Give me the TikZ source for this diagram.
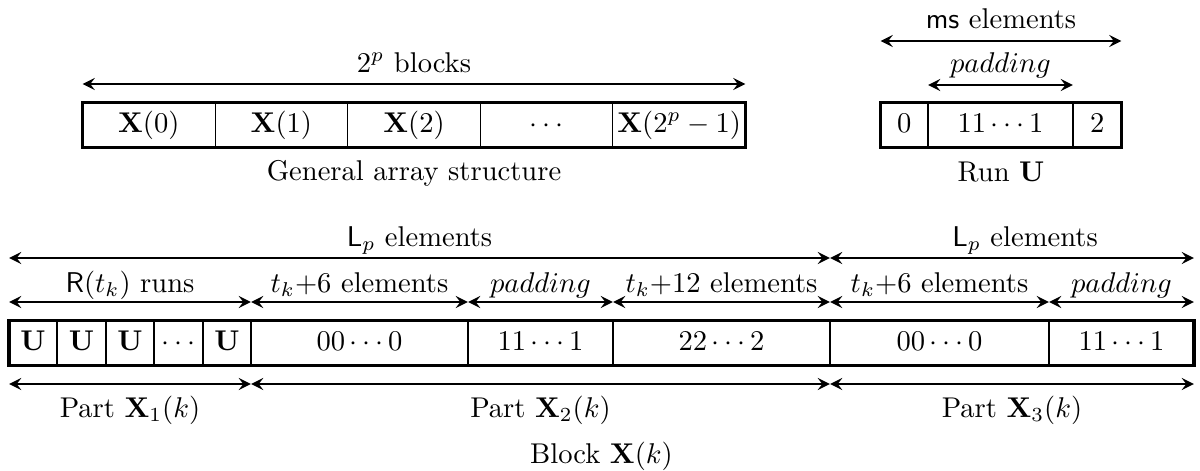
\documentclass[tikz,border=0pt]{standalone}
\usetikzlibrary{arrows.meta}
\newcommand\pxu{0.350pt}
\begin{document}
\begin{tikzpicture}[x=\pxu, y=-\pxu,
  cell/.style={draw, line width=0.4pt, inner sep=0pt, outer sep=0pt, anchor=north west,
    minimum height=45*\pxu, text height=7.5pt, text depth=2.5pt},
  frame/.style={line width=1.2pt},
  dim/.style={line width=1pt,
    arrows={Stealth[length=4.3pt,width=4.2pt,inset=1.6pt]-Stealth[length=4.3pt,width=4.2pt,inset=1.6pt]}},
  lab/.style={anchor=base, inner sep=0pt, outer sep=0pt}]
\useasboundingbox (0,0) rectangle (1200,470);

% ---- General array structure ----
\node[cell, minimum width=132.6*\pxu] (x0) at (82.5,102.5) {$\mathbf{X}(0)$};
\node[cell, minimum width=132.6*\pxu] (x1) at (215.1,102.5) {$\mathbf{X}(1)$};
\node[cell, minimum width=132.6*\pxu] (x2) at (347.7,102.5) {$\mathbf{X}(2)$};
\node[cell, minimum width=132.6*\pxu] (x3) at (480.3,102.5) {$\cdots$};
\node[cell, minimum width=132.6*\pxu] (x4) at (612.9,102.5) {$\mathbf{X}(2^p-1)$};
\draw[frame] (x0.north west) rectangle (x4.south east);
\draw[dim] ([yshift=18.5*\pxu]x0.north west) -- ([yshift=18.5*\pxu]x4.north east)
  node[lab, midway, yshift=12*\pxu] {$2^p$ blocks};
\node[lab] (gas) at (414,180) {General array structure};

% ---- Run U ----
\node[cell, minimum width=47.5*\pxu] (r0) at (880.5,102.5) {$0$};
\node[cell, minimum width=145*\pxu] (r1) at (928,102.5) {$11\cdots1$};
\node[cell, minimum width=48.5*\pxu] (r2) at (1073,102.5) {$2$};
\draw[frame] (r0.north west) rectangle (r2.south east);
\draw[dim] ([yshift=61.5*\pxu]r0.north west) -- ([yshift=61.5*\pxu]r2.north east)
  node[lab, midway, yshift=13*\pxu] {\textsf{ms} elements};
\draw[dim] ([yshift=17.5*\pxu]r1.north west) -- ([yshift=17.5*\pxu]r1.north east)
  node[lab, midway, yshift=13*\pxu] {$padding$};
\node[lab] (runu) at (1001,181) {Run $\mathbf{U}$};

% ---- Block X(k) ----
\node[cell, minimum width=48*\pxu] (u1) at (9,320.5) {$\mathbf{U}$};
\node[cell, minimum width=49*\pxu] (u2) at (57,320.5) {$\mathbf{U}$};
\node[cell, minimum width=48*\pxu] (u3) at (106,320.5) {$\mathbf{U}$};
\node[cell, minimum width=49*\pxu] (u4) at (154,320.5) {$\cdots$};
\node[cell, minimum width=48*\pxu] (u5) at (203,320.5) {$\mathbf{U}$};
\node[cell, minimum width=217*\pxu] (za) at (251,320.5) {$00\cdots0$};
\node[cell, minimum width=145*\pxu] (oa) at (468,320.5) {$11\cdots1$};
\node[cell, minimum width=217*\pxu] (ta) at (613,320.5) {$22\cdots2$};
\node[cell, minimum width=219*\pxu] (zb) at (830,320.5) {$00\cdots0$};
\node[cell, minimum width=145*\pxu] (ob) at (1049,320.5) {$11\cdots1$};
\draw[frame] (u1.north west) rectangle (ob.south east);

% L_p arrows
\draw[dim] ([yshift=62.5*\pxu]u1.north west) -- ([yshift=62.5*\pxu]ta.north east)
  node[lab, midway, yshift=12*\pxu] {$\mathsf{L}_p$ elements};
\draw[dim] ([yshift=62.5*\pxu]zb.north west) -- ([yshift=62.5*\pxu]ob.north east)
  node[lab, midway, yshift=12*\pxu, xshift=13*\pxu] {$\mathsf{L}_p$ elements};

% second row arrows
\draw[dim] ([yshift=18.5*\pxu]u1.north west) -- ([yshift=18.5*\pxu]u5.north east)
  node[lab, midway, yshift=10*\pxu] {$\mathsf{R}(t_k)$ runs};
\draw[dim] ([yshift=18.5*\pxu]za.north west) -- ([yshift=18.5*\pxu]za.north east)
  node[lab, midway, yshift=10*\pxu] {$t_k{+}6$ elements};
\draw[dim] ([yshift=18.5*\pxu]oa.north west) -- ([yshift=18.5*\pxu]oa.north east)
  node[lab, midway, yshift=10*\pxu] {$padding$};
\draw[dim] ([yshift=18.5*\pxu]ta.north west) -- ([yshift=18.5*\pxu]ta.north east)
  node[lab, midway, yshift=10*\pxu] {$t_k{+}12$ elements};
\draw[dim] ([yshift=18.5*\pxu]zb.north west) -- ([yshift=18.5*\pxu]zb.north east)
  node[lab, midway, yshift=10*\pxu] {$t_k{+}6$ elements};
\draw[dim] ([yshift=18.5*\pxu]ob.north west) -- ([yshift=18.5*\pxu]ob.north east)
  node[lab, midway, yshift=10*\pxu] {$padding$};

% part arrows
\draw[dim] ([yshift=-18.5*\pxu]u1.south west) -- ([yshift=-18.5*\pxu]u5.south east)
  node[lab, midway, yshift=-33*\pxu] {Part $\mathbf{X}_1(k)$};
\draw[dim] ([yshift=-18.5*\pxu]za.south west) -- ([yshift=-18.5*\pxu]ta.south east)
  node[lab, midway, yshift=-33*\pxu] {Part $\mathbf{X}_2(k)$};
\draw[dim] ([yshift=-18.5*\pxu]zb.south west) -- ([yshift=-18.5*\pxu]ob.south east)
  node[lab, midway, yshift=-33*\pxu] {Part $\mathbf{X}_3(k)$};

\node[lab] (blk) at (601.5,463) {Block $\mathbf{X}(k)$};
\end{tikzpicture}
\end{document}
